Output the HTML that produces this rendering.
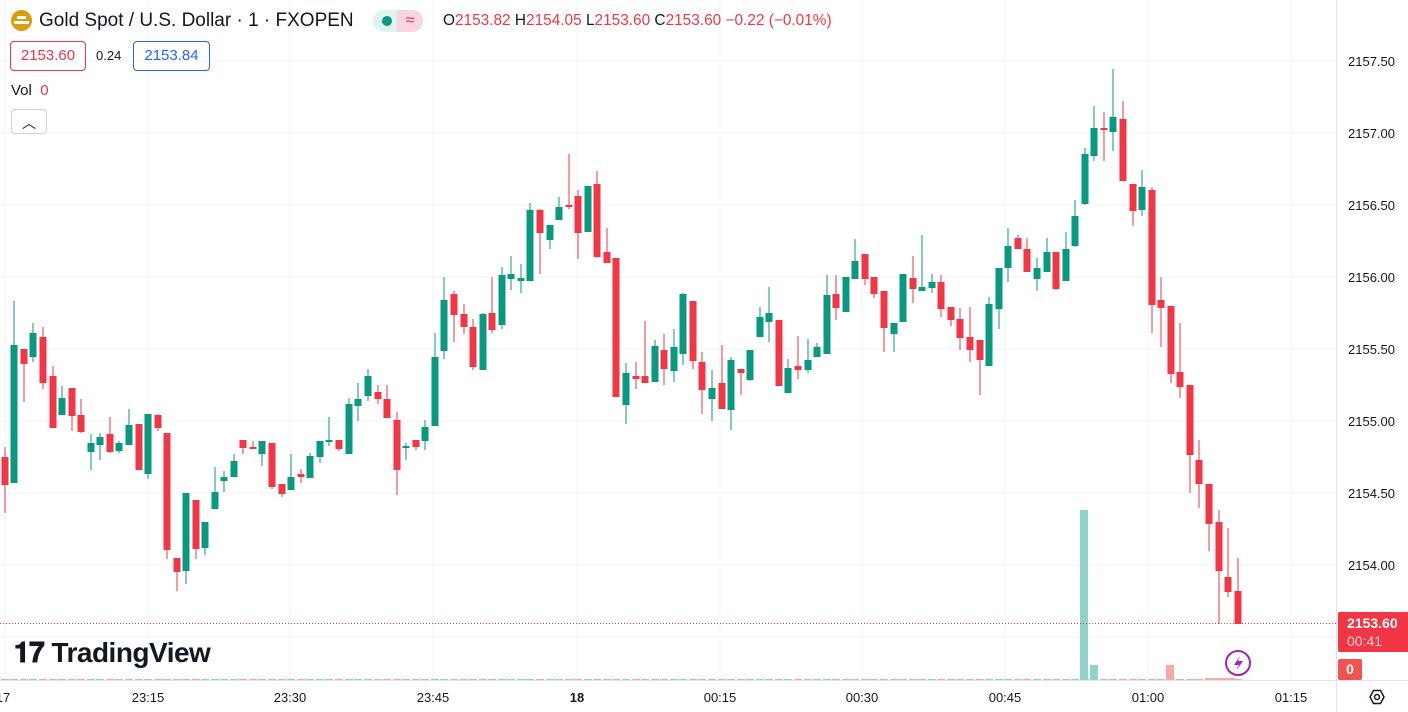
<!DOCTYPE html>
<html><head><meta charset="utf-8"><style>
body{margin:0;width:1408px;height:712px;overflow:hidden;background:#fff;font-family:"Liberation Sans",sans-serif;color:#131722}
#c{position:absolute;left:0;top:0}
.t{position:absolute;white-space:nowrap}
</style></head><body>
<svg id="c" width="1408" height="712" xmlns="http://www.w3.org/2000/svg"></svg>
<div class="t" style="left:11px;top:10px;width:21px;height:21px;border-radius:50%;background:#d89e0c"></div>
<div class="t" style="left:17px;top:16px;width:9px;height:3px;background:#fff"></div>
<div class="t" style="left:14px;top:21px;width:15px;height:3px;background:#fff"></div>
<div class="t" style="left:39px;top:10px;font-size:19px;color:#131722">Gold Spot / U.S. Dollar · 1 · FXOPEN</div>
<div class="t" style="left:373px;top:10px;width:24px;height:22px;background:#dff3ef;border-radius:11px 0 0 11px"></div>
<div class="t" style="left:397px;top:10px;width:26px;height:22px;background:#f9d5e1;border-radius:0 11px 11px 0;color:#e0306b;font-size:16px;text-align:center;line-height:22px">≈</div>
<div class="t" style="left:382px;top:16px;width:10px;height:10px;border-radius:50%;background:#089981"></div>
<div class="t" style="left:443px;top:12px;font-size:15.4px;color:#131722">O<span style="color:#f23645">2153.82</span>&nbsp;H<span style="color:#f23645">2154.05</span>&nbsp;L<span style="color:#f23645">2153.60</span>&nbsp;C<span style="color:#f23645">2153.60</span>&nbsp;<span style="color:#f23645">−0.22 (−0.01%)</span></div>
<div class="t" style="left:10px;top:41px;width:74px;height:28px;border:1px solid #f23645;border-radius:4px;color:#f23645;font-size:15px;text-align:center;line-height:28px">2153.60</div>
<div class="t" style="left:96px;top:48px;font-size:13px">0.24</div>
<div class="t" style="left:133px;top:41px;width:75px;height:28px;border:1px solid #2962ff;border-radius:4px;color:#2962ff;font-size:15px;text-align:center;line-height:28px">2153.84</div>
<div class="t" style="left:11px;top:82px;font-size:15px">Vol&nbsp; <span style="color:#f23645">0</span></div>
<div class="t" style="left:11px;top:109px;width:34px;height:23px;border:1px solid #d1d4dc;border-radius:4px;background:#fff;text-align:center;font-size:14px;line-height:26px">︿</div>
<div class="t" style="left:14px;top:637px;font-size:28px;font-weight:bold;color:#131722;letter-spacing:-0.5px">𝟏𝟕 TradingView</div>
<div class="t" style="left:1338px;top:612px;width:70px;height:40px;background:#f23645;border-radius:2px 0 0 2px;color:#fff;font-size:14px;line-height:18px;padding-left:9px;box-sizing:border-box;padding-top:2px;font-weight:bold">2153.60<br><span style="color:#fcd4d8;font-weight:normal">00:41</span></div>
<div class="t" style="left:1338px;top:659px;width:24px;height:21px;background:#f05350;border-radius:2px;color:#fff;font-size:14px;font-weight:bold;text-align:center;line-height:21px">0</div>
<script>
const s=document.getElementById('c');let h='';
const G='#089981',R='#f23645',grid='#f0f3fa';
[61,133,205,277,349,421,493,565,637].forEach(y=>h+=`<line x1="0" x2="1336" y1="${y}" y2="${y}" stroke="${grid}"/>`);
[5,148,290,433,577,720,862,1005,1148,1291].forEach(x=>h+=`<line x1="${x}" x2="${x}" y1="0" y2="680" stroke="${grid}"/>`);
const d=[
[5,457,485,447,513,'r'],[14,345,483,301,483,'g'],[24,349,364,349,402,'r'],[33,333,357,323,362,'g'],[43,337,383,327,389,'r'],
[53,376,428,366,428,'r'],[62,398,415,386,415,'g'],[72,388,416,388,431,'r'],[81,415,432,399,433,'r'],[91,443,452,434,470,'g'],
[100,437,445,433,460,'g'],[110,434,452,417,453,'r'],[119,443,451,441,453,'g'],[129,425,445,409,445,'g'],[139,424,470,424,470,'r'],
[148,414,474,414,479,'g'],[158,415,428,414,431,'r'],[167,433,550,433,559,'r'],[177,558,572,558,591,'r'],[186,493,571,493,584,'g'],
[196,500,549,500,559,'r'],[205,522,548,522,555,'g'],[215,492,509,467,509,'g'],[224,477,481,471,492,'g'],[234,461,477,454,477,'g'],
[243,440,448,440,454,'r'],[253,447,449,441,449,'r'],[262,441,454,441,466,'g'],[272,443,487,443,489,'r'],[282,484,494,484,497,'r'],
[291,477,490,454,490,'g'],[301,474,477,469,483,'r'],[310,456,478,453,478,'g'],[320,441,457,441,463,'g'],[329,440,442,417,446,'g'],
[339,440,449,440,451,'r'],[349,404,454,398,454,'g'],[358,399,406,383,421,'g'],[368,376,396,369,401,'g'],[378,392,399,385,404,'r'],
[387,399,418,385,418,'r'],[397,420,470,412,495,'r'],[406,446,448,443,460,'g'],[416,440,447,440,450,'r'],[425,427,441,420,450,'g'],
[435,357,426,333,426,'g'],[444,300,351,277,359,'g'],[454,294,315,291,342,'r'],[464,314,327,304,334,'r'],[473,327,367,319,370,'r'],
[483,314,370,313,370,'g'],[492,313,330,277,333,'r'],[502,275,325,267,329,'g'],[511,274,279,256,290,'g'],[521,278,281,264,293,'g'],
[530,210,281,203,281,'g'],[540,210,233,209,274,'r'],[550,225,240,225,249,'g'],[559,207,220,197,220,'g'],[569,205,207,154,209,'r'],
[578,196,233,190,259,'r'],[588,186,232,186,232,'g'],[597,184,257,171,258,'r'],[607,252,263,228,263,'r'],[616,258,397,258,397,'r'],
[626,373,405,363,424,'g'],[636,376,379,362,389,'r'],[645,376,383,321,383,'r'],[655,346,382,340,382,'g'],[664,350,369,334,385,'r'],
[674,347,371,329,382,'g'],[683,294,354,293,365,'g'],[693,301,361,301,369,'r'],[702,362,390,352,414,'r'],[712,388,399,370,421,'g'],
[722,383,409,345,409,'r'],[731,360,410,357,430,'g'],[741,369,373,369,395,'r'],[750,350,380,350,381,'g'],[760,317,337,307,337,'g'],
[769,313,322,287,342,'g'],[779,320,386,320,386,'r'],[788,368,393,359,393,'g'],[798,366,370,336,379,'r'],[808,360,370,339,373,'g'],
[817,347,357,343,357,'g'],[827,295,354,275,354,'g'],[836,294,308,275,320,'r'],[846,277,312,277,312,'g'],[855,261,279,239,279,'g'],
[865,254,279,254,285,'r'],[874,277,294,277,298,'r'],[884,291,328,291,352,'r'],[894,323,334,323,352,'g'],[903,274,322,274,322,'g'],
[913,278,289,256,303,'r'],[922,287,291,235,291,'g'],[932,282,288,274,293,'g'],[941,282,309,275,317,'r'],[951,307,320,307,326,'r'],
[960,319,338,308,350,'r'],[970,337,350,307,362,'r'],[980,340,360,340,395,'r'],[989,304,366,297,366,'g'],[999,268,309,268,329,'g'],
[1008,246,268,228,282,'g'],[1018,238,249,235,249,'r'],[1027,249,272,238,272,'r'],[1037,268,279,258,291,'g'],[1047,252,272,238,272,'g'],
[1056,252,289,252,290,'r'],[1066,249,281,232,281,'g'],[1075,216,246,200,247,'g'],[1085,154,204,148,205,'g'],[1094,128,156,106,161,'g'],
[1104,128,130,112,161,'r'],[1113,117,132,69,151,'g'],[1123,119,181,101,181,'r'],[1133,184,211,184,226,'r'],[1142,187,210,170,216,'g'],
[1152,190,305,187,333,'r'],[1161,300,308,277,347,'r'],[1171,306,374,306,383,'r'],[1180,372,387,323,398,'r'],[1190,385,455,385,493,'r'],
[1199,460,484,440,508,'r'],[1209,484,524,484,551,'r'],[1219,522,571,510,624,'r'],[1228,577,592,528,597,'r'],[1238,591,624,558,624,'r']];
d.forEach(c=>{const col=c[5]=='g'?'#8fd3c9':'#f7a9a7';h+=`<rect x="${c[0]-4}" y="679" width="8" height="1" fill="${col}"/>`});
h+=`<rect x="1080" y="510" width="8" height="170" fill="#8fd3c9"/><rect x="1090" y="665" width="8" height="15" fill="#8fd3c9"/><rect x="1166" y="665" width="8" height="15" fill="#f7a9a7"/><rect x="1205" y="678" width="30" height="2" fill="#f7a9a7"/>`;
d.forEach(c=>{const col=c[5]=='g'?G:R;h+=`<rect x="${c[0]-0.5}" y="${c[3]}" width="1" height="${c[4]-c[3]}" fill="${col}"/><rect x="${c[0]-3.5}" y="${c[1]}" width="7" height="${Math.max(2,c[2]-c[1])}" fill="${col}"/>`});
h+=`<line x1="0" x2="1336" y1="623.5" y2="623.5" stroke="${R}" stroke-dasharray="1 2"/>`;
h+=`<line x1="0" x2="1408" y1="680.5" y2="680.5" stroke="#e0e3eb"/><line x1="1336.5" x2="1336.5" y1="0" y2="712" stroke="#e0e3eb"/>`;
[[61,'2157.50'],[133,'2157.00'],[205,'2156.50'],[277,'2156.00'],[349,'2155.50'],[421,'2155.00'],[493,'2154.50'],[565,'2154.00']].forEach(p=>h+=`<text x="1348" y="${p[0]+5}" font-size="13" fill="#131722" font-family="Liberation Sans">${p[1]}</text>`);
[[3,'17'],[148,'23:15'],[290,'23:30'],[433,'23:45'],[577,'18'],[720,'00:15'],[862,'00:30'],[1005,'00:45'],[1148,'01:00'],[1291,'01:15']].forEach(p=>h+=`<text x="${p[0]}" y="702" font-size="13" text-anchor="middle" fill="#131722" font-family="Liberation Sans" ${p[1]=='18'?'font-weight="bold"':''}>${p[1]}</text>`);
h+=`<circle cx="1238" cy="663" r="12" fill="none" stroke="#9c27b0" stroke-width="2"/><path d="M1240 656 L1234 665 L1239 665 L1236 671 L1243 661 L1238 661 Z" fill="#9c27b0"/>`;
h+=`<polygon points="1370,697 1373.5,690.5 1380.5,690.5 1384,697 1380.5,703.5 1373.5,703.5" fill="none" stroke="#131722" stroke-width="1.5"/><circle cx="1377" cy="697" r="2.5" fill="none" stroke="#131722" stroke-width="1.5"/>`;
s.innerHTML=h;
</script>
</body></html>
